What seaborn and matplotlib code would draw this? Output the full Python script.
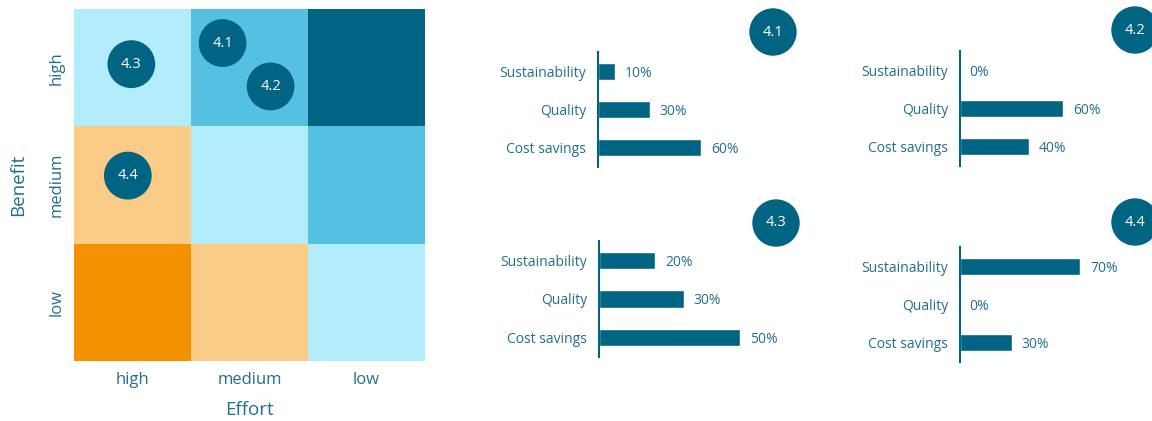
import matplotlib
matplotlib.use("Agg")
import matplotlib.pyplot as plt
from matplotlib.colors import ListedColormap
from matplotlib.patches import Circle
import numpy as np
import pandas as pd
import seaborn as sns

# ---- data -------------------------------------------------------------
effort_levels = ["high", "medium", "low"]
benefit_levels = ["high", "medium", "low"]
# priority score per cell (rows: benefit high->low, cols: effort high->low)
priority = [
    [2, 3, 4],
    [1, 2, 3],
    [0, 1, 2],
]
# measure positions inside the matrix (effort axis, benefit axis)
measure_ids = ["4.1", "4.2", "4.3", "4.4"]
measure_effort = [1.27, 1.68, 0.49, 0.46]
measure_benefit = [0.29, 0.66, 0.47, 1.42]

categories = ["Sustainability", "Quality", "Cost savings"]
shares = {
    "4.1": [10, 30, 60],
    "4.2": [0, 60, 40],
    "4.3": [20, 30, 50],
    "4.4": [70, 0, 30],
}

# ---- style ------------------------------------------------------------
sns.set_theme(style="white")
plt.rcParams["font.family"] = ["Open Sans", "DejaVu Sans"]
TEAL = "#006482"
TEXT = "#22708c"
palette = ["#F39200", "#FACC88", "#B3EDFC", "#56C0E3", "#006482"]

W, H = 1152, 421
fig = plt.figure(figsize=(W / 100, H / 100), dpi=100)


def px_axes(x0, y0, x1, y1):
    """Axes placed by pixel box (top-left origin)."""
    return fig.add_axes([x0 / W, 1 - y1 / H, (x1 - x0) / W, (y1 - y0) / H])


# ---- priority matrix --------------------------------------------------
ax = px_axes(74, 9, 425, 361)
sns.heatmap(pd.DataFrame(priority, index=benefit_levels, columns=effort_levels),
            cmap=ListedColormap(palette), vmin=-0.5, vmax=4.5, cbar=False,
            ax=ax, linewidths=0)
ax.tick_params(axis="x", length=0, pad=8, labelsize=12, labelcolor=TEXT)
ax.tick_params(axis="y", length=0, pad=7, labelsize=12, labelcolor=TEXT)
ax.set_yticklabels(benefit_levels, rotation=90, va="center")
ax.set_xticklabels(effort_levels, rotation=0)
ax.set_xlabel("Effort", fontsize=13.5, color=TEXT, labelpad=9)
ax.set_ylabel("Benefit", fontsize=13.5, color=TEXT, labelpad=15)
for mid, ex, bx in zip(measure_ids, measure_effort, measure_benefit):
    ax.add_patch(Circle((ex, bx), 0.198, color=TEAL, zorder=5))
    ax.text(ex, bx, mid, color="white", fontsize=10.5, ha="center",
            va="center", zorder=6)

# ---- share panels -----------------------------------------------------
panel_boxes = {
    "4.1": (598, 52, 770, 167),
    "4.2": (960, 51, 1132, 166),
    "4.3": (599, 241, 771, 357),
    "4.4": (960, 247, 1132, 362),
}
panel_xmax = {"4.1": 100, "4.2": 100, "4.3": 61, "4.4": 100}
badge_pos = {
    "4.1": (773, 32),
    "4.2": (1135, 30),
    "4.3": (776, 223),
    "4.4": (1135, 222),
}

for mid in measure_ids:
    bx = px_axes(*panel_boxes[mid])
    df = pd.DataFrame({"category": categories, "share": shares[mid]})
    sns.barplot(data=df, x="share", y="category", orient="h", color=TEAL,
                width=0.44, saturation=1, ax=bx)
    bx.set_xlim(0, panel_xmax[mid])
    bx.set_ylim(2.5, -0.5)
    bx.set_xlabel("")
    bx.set_ylabel("")
    bx.set_xticks([])
    for side in ("top", "right", "bottom"):
        bx.spines[side].set_visible(False)
    bx.spines["left"].set_color(TEAL)
    bx.spines["left"].set_linewidth(1.5)
    bx.tick_params(axis="y", length=0, pad=8.5, labelsize=10, labelcolor=TEXT)
    for i, v in enumerate(shares[mid]):
        bx.annotate(f"{v}%", (v, i), xytext=(7, 0), textcoords="offset points",
                    va="center_baseline", ha="left", fontsize=10, color=TEXT)
    bx.patch.set_alpha(0)

# ---- panel badges -----------------------------------------------------
ov = fig.add_axes([0, 0, 1, 1], zorder=10)
ov.set_xlim(0, W)
ov.set_ylim(H, 0)
ov.axis("off")
ov.patch.set_alpha(0)
for mid in measure_ids:
    cx, cy = badge_pos[mid]
    ov.add_patch(Circle((cx, cy), 23, color=TEAL))
    ov.text(cx, cy, mid, color="white", fontsize=10.5, ha="center", va="center")

fig.savefig("out.png", dpi=100)
